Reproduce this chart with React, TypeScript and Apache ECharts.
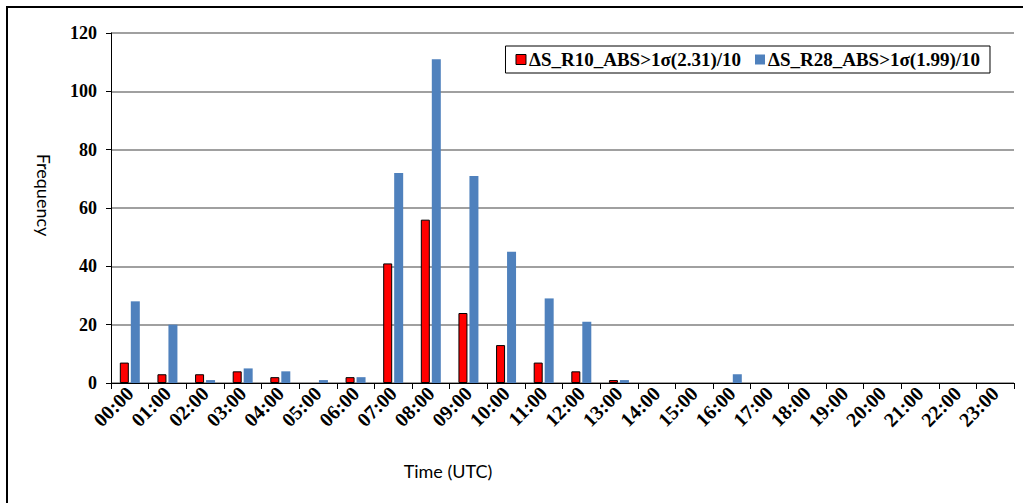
import React, { useEffect, useRef } from "react";
import * as echarts from "echarts";

const hours: string[] = [
  "00:00", "01:00", "02:00", "03:00", "04:00", "05:00", "06:00", "07:00",
  "08:00", "09:00", "10:00", "11:00", "12:00", "13:00", "14:00", "15:00",
  "16:00", "17:00", "18:00", "19:00", "20:00", "21:00", "22:00", "23:00",
];

const r10Name = "ΔS_R10_ABS>1σ(2.31)/10";
const r28Name = "ΔS_R28_ABS>1σ(1.99)/10";

const r10Counts: number[] = [7, 3, 3, 4, 2, 0, 2, 41, 56, 24, 13, 7, 4, 1, 0, 0, 0, 0, 0, 0, 0, 0, 0, 0];
const r28Counts: number[] = [28, 20, 1, 5, 4, 1, 2, 72, 111, 71, 45, 29, 21, 1, 0, 0, 3, 0, 0, 0, 0, 0, 0, 0];

const yTicks = { min: 0, max: 120, interval: 20 };

const serifBold = {
  fontFamily: "'Liberation Serif', 'Times New Roman', serif",
  fontWeight: "bold" as const,
  color: "#000",
};
const sansFont = "Lato, 'Liberation Sans', sans-serif";

// empty hours draw no bar (and no outline stub on the axis)
const asBars = (counts: number[]) => counts.map((v) => (v === 0 ? null : v));

export default function App() {
  const ref = useRef<HTMLDivElement>(null);

  useEffect(() => {
    if (!ref.current) return;
    const chart = echarts.init(ref.current, null, { renderer: "svg" });
    chart.setOption({
      animation: false,
      backgroundColor: "#fff",
      grid: { left: 111, right: 9, top: 33, bottom: 120, containLabel: false },
      legend: {
        right: 33,
        top: 46,
        icon: "rect",
        itemWidth: 10,
        itemHeight: 10,
        itemGap: 14,
        padding: [4, 10, 4, 10],
        borderColor: "#000",
        borderWidth: 1,
        textStyle: { ...serifBold, fontSize: 19, padding: [0, 0, 0, -2] },
        data: [
          { name: r10Name, itemStyle: { borderColor: "#000", borderWidth: 1 } },
          { name: r28Name },
        ],
      },
      xAxis: {
        type: "category",
        data: hours,
        axisLine: { lineStyle: { color: "#000", width: 1 } },
        axisTick: { show: true, length: 6, lineStyle: { color: "#000" } },
        axisLabel: { ...serifBold, fontSize: 20, rotate: 45, margin: 7, interval: 0 },
      },
      yAxis: {
        type: "value",
        min: yTicks.min,
        max: yTicks.max,
        interval: yTicks.interval,
        axisLine: { show: true, lineStyle: { color: "#000", width: 1 } },
        axisTick: { show: true, length: 5, lineStyle: { color: "#000" } },
        axisLabel: { ...serifBold, fontSize: 18, margin: 14 },
        splitLine: { show: true, lineStyle: { color: "#808080", width: 1.5 } },
      },
      series: [
        {
          name: r10Name,
          type: "bar",
          data: asBars(r10Counts),
          barWidth: 9,
          barGap: "22%",
          itemStyle: { color: "#FF0000", borderColor: "#000", borderWidth: 1 },
        },
        {
          name: r28Name,
          type: "bar",
          data: asBars(r28Counts),
          barWidth: 9,
          itemStyle: { color: "#4F81BD" },
        },
      ],
      graphic: [
        {
          type: "rect",
          shape: { x: 7, y: 7, width: 1040, height: 520 },
          style: { fill: "none", stroke: "#000", lineWidth: 2 },
          silent: true,
        },
        {
          type: "text",
          x: 448,
          y: 471,
          style: {
            text: "Time (UTC)",
            fontFamily: sansFont,
            fontSize: 18,
            fill: "#000",
            align: "center",
            verticalAlign: "middle",
          },
        },
        {
          type: "text",
          x: 44,
          y: 195,
          rotation: -Math.PI / 2,
          style: {
            text: "Frequency",
            fontFamily: sansFont,
            fontSize: 18,
            fill: "#000",
            align: "center",
            verticalAlign: "middle",
          },
        },
      ],
    });
    return () => chart.dispose();
  }, []);

  return (
    <div
      ref={ref}
      style={{ position: "absolute", left: 0, top: 0, width: 1023, height: 503 }}
    />
  );
}
